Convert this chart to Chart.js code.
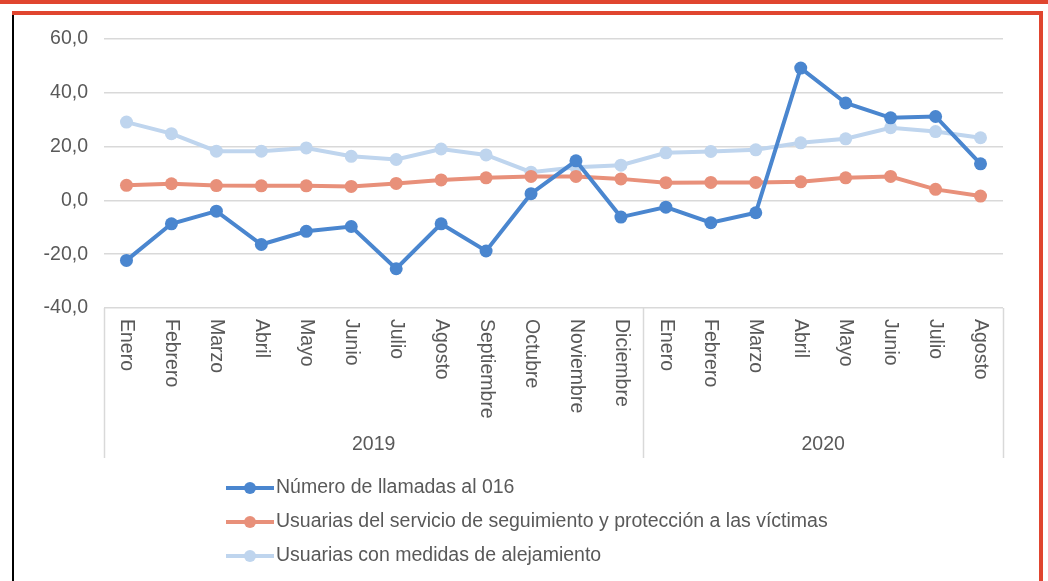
<!DOCTYPE html>
<html>
<head>
<meta charset="utf-8">
<script src="https://cdn.jsdelivr.net/npm/chart.js@4/dist/chart.umd.min.js"></script>
<style>
  html, body { margin: 0; padding: 0; background: #fff; }
  #wrap { position: relative; width: 1048px; height: 581px; overflow: hidden; }
  canvas { position: absolute; left: 0; top: 0; }
  .f { position: absolute; }
</style>
</head>
<body>
<div id="wrap">
  <canvas id="c" width="1048" height="581"></canvas>
  <div class="f" style="left:0;top:0;width:1048px;height:4px;background:#E0452F;"></div>
  <div class="f" style="left:12px;top:11px;width:1031px;height:4px;background:#E0452F;"></div>
  <div class="f" style="left:1039px;top:11px;width:4px;height:570px;background:#E0452F;"></div>
  <div class="f" style="left:12px;top:15px;width:2px;height:566px;background:#000;"></div>
</div>
<script>
const months = ["Enero","Febrero","Marzo","Abril","Mayo","Junio","Julio","Agosto","Septiembre","Octubre","Noviembre","Diciembre",
                "Enero","Febrero","Marzo","Abril","Mayo","Junio","Julio","Agosto"];
const years = ["2019","2020"];
const yearCounts = [12, 8];
const seriesNames = ["Número de llamadas al 016",
                     "Usuarias del servicio de seguimiento y protección a las víctimas",
                     "Usuarias con medidas de alejamiento"];
const llamadas = [-22.3,-8.7,-4.0,-16.4,-11.5,-9.7,-25.4,-8.7,-18.8,2.5,14.7,-6.2,
                  -2.5,-8.3,-4.6,49.2,36.2,30.7,31.2,13.6];
const seguimiento = [5.6,6.2,5.5,5.4,5.4,5.2,6.3,7.6,8.4,8.9,8.9,8.0,
                     6.6,6.7,6.7,6.9,8.4,8.9,4.1,1.6];
const alejamiento = [29.1,24.8,18.3,18.3,19.5,16.4,15.2,19.1,16.9,10.5,12.3,13.1,
                     17.7,18.2,18.8,21.4,22.9,27.0,25.6,23.3];
const yTicks = [-40, -20, 0, 20, 40, 60];

const colors = ["#4A86CF", "#E8907A", "#BFD5EE"];
const FONT = "Liberation Sans, Arial, sans-serif";
const TXT = "#595959";

const xLabelsPlugin = {
  id: 'xLabels',
  afterDraw(chart) {
    const ctx = chart.ctx, xs = chart.scales.x, area = chart.chartArea;
    ctx.save();
    ctx.fillStyle = TXT;
    ctx.font = "19.5px " + FONT;
    ctx.textAlign = "left";
    ctx.textBaseline = "middle";
    months.forEach((m, i) => {
      const x = xs.getPixelForValue(i);
      ctx.save();
      ctx.translate(x, 319);
      ctx.rotate(Math.PI / 2);
      ctx.fillText(m, 0, 0);
      ctx.restore();
    });
    ctx.strokeStyle = "#D9D9D9";
    ctx.lineWidth = 1.5;
    let start = 0;
    const divs = [area.left];
    years.forEach((y, k) => {
      const end = start + yearCounts[k] - 1;
      const cx = (xs.getPixelForValue(start) + xs.getPixelForValue(end)) / 2;
      ctx.textAlign = "center";
      ctx.fillText(y, cx, 445);
      if (k < years.length - 1) {
        divs.push((xs.getPixelForValue(end) + xs.getPixelForValue(end + 1)) / 2);
      }
      start = end + 1;
    });
    divs.push(area.right);
    divs.forEach(d => {
      ctx.beginPath();
      ctx.moveTo(Math.round(d) + 0.5, area.bottom);
      ctx.lineTo(Math.round(d) + 0.5, 458);
      ctx.stroke();
    });
    const rows = [488, 522, 556];
    chart.data.datasets.forEach((ds, i) => {
      const y = rows[i];
      ctx.strokeStyle = ds.borderColor;
      ctx.lineWidth = 4;
      ctx.beginPath();
      ctx.moveTo(226, y);
      ctx.lineTo(274, y);
      ctx.stroke();
      ctx.fillStyle = ds.borderColor;
      ctx.beginPath();
      ctx.arc(250, y, 6, 0, Math.PI * 2);
      ctx.fill();
      ctx.fillStyle = TXT;
      ctx.textAlign = "left";
      ctx.textBaseline = "middle";
      ctx.fillText(ds.label, 276, y);
    });
    ctx.restore();
  }
};

const mkDs = (label, data, color) => ({
  label, data,
  borderColor: color, backgroundColor: color,
  pointBackgroundColor: color, pointBorderColor: color,
  borderWidth: 4, pointRadius: 6.5, pointHoverRadius: 6.5, pointBorderWidth: 0,
  tension: 0
});

new Chart(document.getElementById('c'), {
  type: 'line',
  data: {
    labels: months,
    datasets: [
      mkDs(seriesNames[0], llamadas, colors[0]),
      mkDs(seriesNames[1], seguimiento, colors[1]),
      mkDs(seriesNames[2], alejamiento, colors[2])
    ]
  },
  options: {
    responsive: false,
    animation: false,
    events: [],
    layout: { padding: { top: 39, right: 45, left: 0, bottom: 0 } },
    plugins: { legend: { display: false }, tooltip: { enabled: false }, title: { display: false } },
    scales: {
      x: {
        type: 'category',
        offset: true,
        grid: { display: false, drawTicks: false },
        border: { display: false },
        ticks: { display: false },
        afterFit(s) { s.height = 273; }
      },
      y: {
        min: -40, max: 60,
        afterBuildTicks(s) { s.ticks = yTicks.map(v => ({ value: v })); },
        grid: { color: "#D9D9D9", lineWidth: 1.5, drawTicks: false },
        border: { display: false },
        ticks: {
          padding: 16,
          color: TXT,
          font: { family: FONT, size: 19.5 },
          callback: v => v.toFixed(1).replace('.', ',')
        },
        afterFit(s) { s.width = 104; }
      }
    }
  },
  plugins: [xLabelsPlugin]
});
</script>
</body>
</html>
